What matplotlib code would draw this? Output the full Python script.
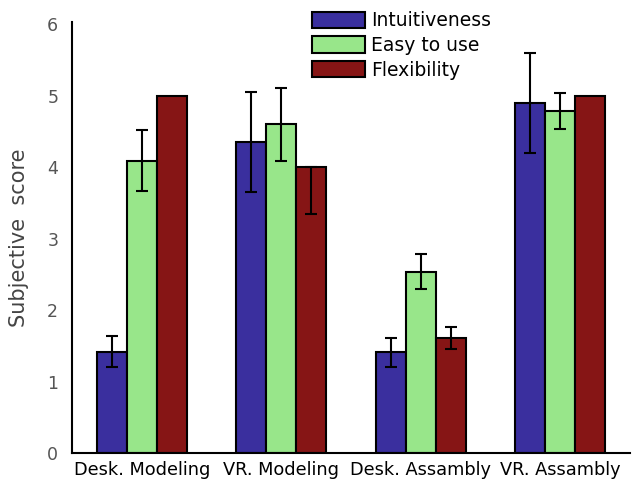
import numpy as np
from matplotlib import pyplot as plt

groups = ['Desk. Modeling', 'VR. Modeling', 'Desk. Assambly', 'VR. Assambly']
series = ['Intuitiveness', 'Easy to use', 'Flexibility']
colors = ['#3a2f9e', '#98e68a', '#861515']

intuitive = [1.42, 4.35, 1.41, 4.90]
intuitive_err = [0.22, 0.70, 0.20, 0.70]
easy = [4.09, 4.60, 2.54, 4.79]
easy_err = [0.43, 0.51, 0.25, 0.25]
flex = [5.0, 4.0, 1.61, 5.0]
flex_err_lo = [0.0, 0.66, 0.15, 0.0]
flex_err_hi = [0.0, 0.0, 0.15, 0.0]

fig = plt.figure(figsize=(6.38, 4.8), dpi=100)
ax = fig.add_axes([0.113, 0.056, 0.874, 0.898])

x = np.arange(len(groups))
w = 0.215
ekw = dict(ecolor='black', elinewidth=1.5, capsize=4, capthick=1.5)

ax.bar(x - w, intuitive, w, color=colors[0], edgecolor='black', linewidth=1.5, label=series[0])
ax.bar(x, easy, w, color=colors[1], edgecolor='black', linewidth=1.5, label=series[1])
ax.bar(x + w, flex, w, color=colors[2], edgecolor='black', linewidth=1.5, label=series[2])

ax.errorbar(x - w, intuitive, yerr=intuitive_err, fmt='none', **ekw)
ax.errorbar(x, easy, yerr=easy_err, fmt='none', **ekw)
# only the flexibility bars with a visible spread get a bar
ix = [1, 2]
ax.errorbar(x[ix] + w, [flex[i] for i in ix],
            yerr=[[flex_err_lo[i] for i in ix], [flex_err_hi[i] for i in ix]],
            fmt='none', **ekw)

ax.set_xlim(-0.5, 3.5)
ax.set_ylim(0, 6.03)
ax.set_yticks(range(7))
ax.set_xticks(x)
ax.set_xticklabels(groups, fontsize=12.8, color='black')
ax.tick_params(axis='y', length=0, labelsize=12.5, labelcolor='#555555', pad=10)
ax.tick_params(axis='x', length=0, pad=6)
for s in ['top', 'right']:
    ax.spines[s].set_visible(False)
for s in ['left', 'bottom']:
    ax.spines[s].set_linewidth(1.5)
ax.set_ylabel('Subjective  score', fontsize=15, color='#444444', labelpad=13)

fig.legend(loc='upper left', bbox_to_anchor=(0.477, 0.992), frameon=False,
           fontsize=13.5, handlelength=2.85, handleheight=0.95, labelspacing=0.3,
           handletextpad=0.3, borderaxespad=0)

fig.savefig('out.png', dpi=100)
